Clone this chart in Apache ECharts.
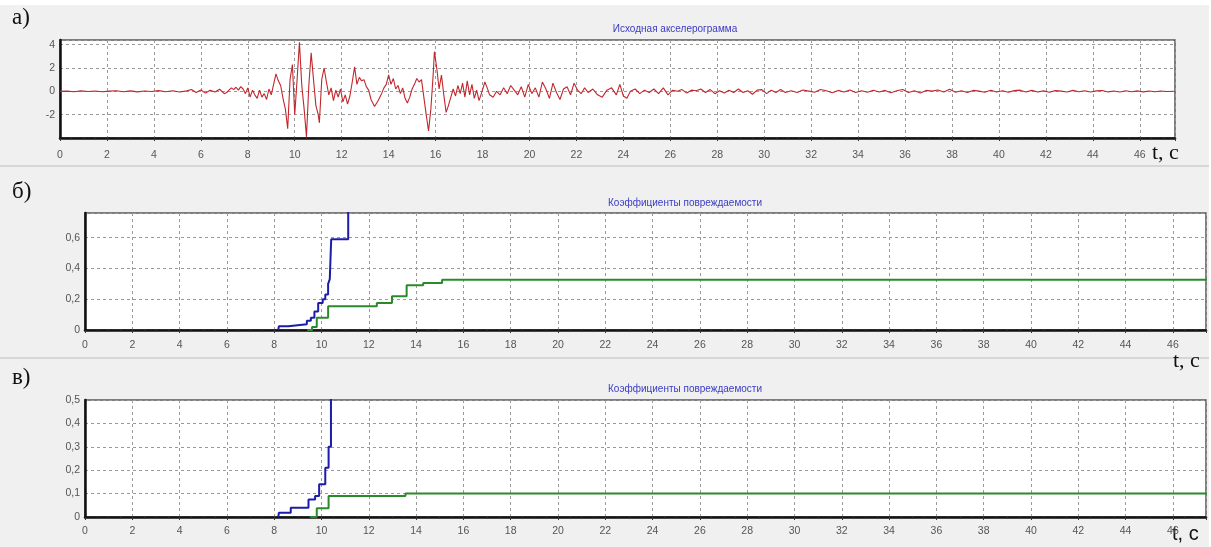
<!DOCTYPE html>
<html><head><meta charset="utf-8">
<script src="https://cdn.jsdelivr.net/npm/echarts@6/dist/echarts.min.js"></script>
<style>html,body{margin:0;padding:0;background:#fff}#c{width:1211px;height:547px}</style>
</head><body><div id="c"></div>
<script>
// --- Data ---
const titles = ['Исходная акселерограмма', 'Коэффициенты повреждаемости', 'Коэффициенты повреждаемости'];
const panelLabels = ['а)', 'б)', 'в)'];
const axisName = 't, c';
const xTicks = [0,2,4,6,8,10,12,14,16,18,20,22,24,26,28,30,32,34,36,38,40,42,44,46];
const yTicksA = [-2,0,2,4];
const yTicksB = [0,0.2,0.4,0.6];
const yTicksC = [0,0.1,0.2,0.3,0.4,0.5];

// accelerogram [t, a]
const accel = [
[0,0],[0.3,0.02],[0.6,-0.03],[0.9,0.04],[1.2,-0.02],[1.5,0.03],[1.8,-0.04],[2.1,0.02],[2.4,0.05],[2.7,-0.03],
[3.0,0.04],[3.3,-0.05],[3.6,0.03],[3.9,-0.02],[4.2,0.06],[4.5,-0.04],[4.8,0.05],[5.1,-0.06],[5.4,0.04],
[5.6,0.15],[5.8,-0.1],[6.0,0.12],[6.2,-0.15],[6.4,0.1],[6.6,-0.05],[6.8,0.18],[7.0,-0.2],
[7.1,-0.1],[7.2,0.1],[7.3,0.3],[7.4,0.15],[7.5,0.35],[7.6,0.1],[7.7,0.4],[7.8,0.2],[7.9,-0.2],[8.0,0.3],
[8.1,-0.5],[8.2,0.1],[8.3,-0.3],[8.4,-0.6],[8.5,0.1],[8.6,-0.5],[8.7,-0.2],[8.8,-0.7],[8.9,0.2],[9.0,-0.3],
[9.1,0.6],[9.2,1.5],[9.3,0.9],[9.4,0.5],[9.5,-0.6],[9.6,-1.5],[9.7,-3.2],[9.8,1.0],[9.9,2.3],[10.0,-2.0],
[10.1,1.0],[10.2,4.2],[10.3,0.5],[10.4,-1.5],[10.5,-3.9],[10.6,0.5],[10.7,3.3],[10.8,1.0],[10.9,-1.2],[11.0,-2.0],
[11.05,-2.7],[11.15,1.0],[11.25,2.0],[11.35,0.8],[11.45,-0.3],[11.55,0.3],[11.65,-0.8],[11.75,0.1],[11.85,-0.5],[11.95,0.2],
[12.05,-0.9],[12.15,-0.3],[12.25,-1.1],[12.35,-0.4],[12.45,0.8],[12.55,2.1],[12.65,0.6],[12.75,1.2],[12.85,0.9],[12.95,1.0],
[13.05,0.4],[13.15,0.1],[13.25,-0.7],[13.4,-1.3],[13.55,-0.8],[13.7,-0.2],[13.8,0.3],[13.9,0.6],[14.0,1.4],[14.1,0.6],
[14.2,1.1],[14.3,0.2],[14.4,0.5],[14.5,-0.2],[14.6,0.3],[14.7,-0.6],[14.8,-1.0],[14.9,-0.5],[15.0,0.2],[15.1,0.6],
[15.2,1.1],[15.3,0.8],[15.4,1.0],[15.5,-0.5],[15.6,-2.0],[15.7,-3.4],[15.8,-1.5],[15.9,1.5],[15.95,3.4],[16.05,2.0],
[16.15,0.2],[16.25,1.4],[16.35,-0.3],[16.45,-1.8],[16.55,-1.2],[16.65,-0.5],[16.75,0.2],[16.85,-0.4],[16.95,0.5],[17.05,-0.2],
[17.15,0.7],[17.25,-0.5],[17.35,0.9],[17.45,-0.3],[17.55,0.6],[17.65,-0.6],[17.75,0.1],[17.85,-0.8],[17.95,-0.2],[18.1,0.8],
[18.2,0.3],[18.3,-0.3],[18.45,-0.5],[18.6,0.0],[18.75,-0.3],[18.9,0.3],[19.05,-0.2],[19.2,0.5],[19.35,0.1],[19.5,-0.3],
[19.65,0.4],[19.8,-0.5],[19.95,0.6],[20.1,-0.2],[20.25,0.3],[20.4,-0.5],[20.55,0.8],[20.7,0.2],[20.85,-0.6],[21.0,0.7],
[21.15,-0.1],[21.3,-0.7],[21.45,0.2],[21.6,0.4],[21.75,-0.3],[21.9,0.7],[22.05,0.1],[22.2,-0.2],[22.35,0.3],[22.5,-0.1],
[22.7,0.2],[22.9,-0.3],[23.1,-0.5],[23.3,0.1],[23.5,0.3],[23.7,-0.3],[23.85,0.6],[24.0,-0.4],[24.15,-0.6],[24.3,0.0],
[24.5,0.2],[24.7,-0.2],[24.9,0.1],[25.1,-0.1],[25.3,0.2],[25.5,-0.2],[25.7,0.3],[25.9,-0.3],[26.1,0.1],[26.3,0.0],
[26.5,0.15],[26.7,-0.15],[26.9,0.1],[27.1,0.05],[27.3,0.2],[27.5,-0.1],[27.7,0.15],[27.9,-0.2],[28.1,0.05],[28.3,-0.15],
[28.5,0.1],[28.7,-0.1],[28.9,0.2],[29.1,-0.1],[29.3,0.05],[29.5,-0.25],[29.7,0.1],[29.9,0.15],[30.1,-0.2],[30.3,0.1],
[30.5,-0.1],[30.7,0.15],[30.9,-0.1],[31.15,0.05],[31.4,-0.1],[31.65,0.12],[31.9,0.02],[32.15,-0.08],[32.4,0.15],[32.65,0.05],
[32.9,-0.12],[33.15,0.08],[33.4,-0.05],[33.65,0.12],[33.9,-0.1],[34.15,0.05],[34.4,-0.08],[34.65,0.1],[34.9,-0.05],[35.15,0.08],
[35.4,-0.12],[35.65,0.05],[35.9,0.15],[36.15,-0.1],[36.4,0.05],[36.65,-0.15],[36.9,0.08],[37.15,0.02],[37.4,0.12],[37.65,-0.05],
[37.9,0.18],[38.15,-0.08],[38.4,0.05],[38.65,-0.1],[38.9,0.08],[39.15,0.02],[39.4,-0.08],[39.65,0.1],[39.9,-0.05],[40.15,0.05],
[40.4,-0.08],[40.65,0.06],[40.9,0.1],[41.15,-0.05],[41.4,0.08],[41.65,-0.06],[41.9,0.04],[42.15,-0.08],[42.4,0.06],[42.65,0.02],
[42.9,-0.06],[43.15,0.08],[43.4,-0.04],[43.65,0.05],[43.9,-0.06],[44.15,0.04],[44.4,0.07],[44.65,-0.05],[44.9,0.03],[45.15,-0.06],
[45.4,0.05],[45.65,-0.03],[45.9,0.04],[46.15,-0.05],[46.4,0.03],[46.65,-0.04],[46.9,0.03],[47.15,-0.02],[47.5,0.01]
];

// damage coefficients, panel б (step changes [t, value])
const blueB = [[8.17,0],[8.2,0.025],[8.6,0.037],[9.38,0.06],[9.55,0.08],[9.7,0.12],[9.86,0.175],[10.05,0.2],[10.16,0.23],[10.28,0.3],[10.35,0.33],[10.41,0.59],[11.13,1.0]];
const greenB = [[9.4,0],[9.6,0.02],[9.8,0.08],[10.28,0.155],[12.34,0.175],[12.98,0.22],[13.6,0.29],[14.3,0.305],[15.1,0.326],[47.5,0.326]];
// panel в
const blueC = [[8.17,0],[8.2,0.018],[8.7,0.04],[9.45,0.075],[9.73,0.09],[9.9,0.14],[10.16,0.21],[10.3,0.3],[10.4,1.0]];
const greenC = [[9.52,0],[9.8,0.037],[10.3,0.09],[13.55,0.1],[47.5,0.1]];

// --- Chart ---
const chart = echarts.init(document.getElementById('c'), null, {renderer:'canvas'});
const fmtComma = v => String(Math.round(v*10)/10).replace('.', ',');
function onTicks(ticks, fmt) {
  return v => ticks.some(t => Math.abs(t - v) < 1e-6) ? fmt(v) : '';
}
const grids = [
  {left:60, top:40, width:1115, height:98},
  {left:85, top:213, width:1121, height:117},
  {left:85, top:400, width:1121, height:117}
];
const gridStyle = {show:true, backgroundColor:'#ffffff', borderColor:'#555', borderWidth:1.5};
const labelStyle = {color:'#555', fontSize:10.5, fontFamily:'Liberation Sans, Arial, sans-serif'};
const splitDashed = {show:true, lineStyle:{color:'#9a9a9a', type:[3,3], width:1}};

function xAxis(i, margin, max) {
  return {
    type:'value', gridIndex:i, min:0, max:max, interval:2,
    axisLine:{show:true, onZero:false, lineStyle:{color:'#111', width:2.5}},
    axisTick:{show:true, length:3, inside:false, lineStyle:{color:'#333'}},
    minorTick:{show:true, splitNumber:4, length:2, lineStyle:{color:'#333'}},
    splitLine:splitDashed,
    axisLabel:Object.assign({margin:margin, showMaxLabel:false, formatter:onTicks(xTicks, v=>String(Math.round(v)))}, labelStyle)
  };
}
function yAxis(i, min, max, interval, ticks, fmt) {
  return {
    type:'value', gridIndex:i, min:min, max:max, interval:interval,
    axisLine:{show:true, onZero:false, lineStyle:{color:'#111', width:2.5}},
    axisTick:{show:false},
    splitLine:splitDashed,
    axisLabel:Object.assign({margin:5, formatter:onTicks(ticks, fmt)}, labelStyle)
  };
}

const titleStyle = {color:'#3b3bc4', fontSize:10, fontWeight:'normal', fontFamily:'Liberation Sans, Arial, sans-serif'};
const serif = 'Liberation Serif, Times New Roman, serif';

const option = {
  backgroundColor:'#f0f0f0',
  animation:false,
  title:[
    {text:titles[0], left:670, top:19, textAlign:'center', textStyle:titleStyle},
    {text:titles[1], left:680, top:193, textAlign:'center', textStyle:titleStyle},
    {text:titles[2], left:680, top:379, textAlign:'center', textStyle:titleStyle}
  ],
  graphic:[
    {type:'rect', shape:{x:0, y:0, width:1211, height:5}, style:{fill:'#ffffff'}, silent:true, z:-10},
    {type:'rect', shape:{x:1209, y:0, width:2, height:547}, style:{fill:'#ffffff'}, silent:true, z:-10},
    {type:'rect', shape:{x:0, y:165, width:1209, height:2}, style:{fill:'#d6d6d6'}, silent:true, z:-10},
    {type:'rect', shape:{x:0, y:357, width:1209, height:2}, style:{fill:'#d6d6d6'}, silent:true, z:-10},
    {type:'text', left:12, top:6, style:{text:panelLabels[0], font:'23px ' + serif, fill:'#111'}},
    {type:'text', left:12, top:180, style:{text:panelLabels[1], font:'23px ' + serif, fill:'#111'}},
    {type:'text', left:12, top:366, style:{text:panelLabels[2], font:'23px ' + serif, fill:'#111'}},
    {type:'text', left:1152, top:142, style:{text:axisName, font:'22px ' + serif, fill:'#111'}},
    {type:'text', left:1173, top:350, style:{text:axisName, font:'22px ' + serif, fill:'#111'}},
    {type:'text', left:1172, top:524, style:{text:axisName, font:'20px Liberation Sans, Arial, sans-serif', fill:'#111'}}
  ],
  grid: grids.map(g => Object.assign({}, g, gridStyle)),
  xAxis:[xAxis(0, 12, 47.5), xAxis(1, 10, 47.4), xAxis(2, 9, 47.4)],
  yAxis:[
    yAxis(0, -4, 4.4, 2, yTicksA, v=>String(Math.round(v))),
    yAxis(1, 0, 0.76, 0.2, yTicksB, fmtComma),
    yAxis(2, 0, 0.5, 0.1, yTicksC, fmtComma)
  ],
  series:[
    {type:'line', xAxisIndex:0, yAxisIndex:0, data:accel, showSymbol:false, lineStyle:{color:'#c0272d', width:1.1}, clip:true},
    {type:'line', xAxisIndex:1, yAxisIndex:1, data:greenB, step:'end', showSymbol:false, lineStyle:{color:'#2a8a2a', width:2}, clip:true},
    {type:'line', xAxisIndex:1, yAxisIndex:1, data:blueB, step:'end', showSymbol:false, lineStyle:{color:'#1c1ca8', width:2}, clip:true},
    {type:'line', xAxisIndex:2, yAxisIndex:2, data:greenC, step:'end', showSymbol:false, lineStyle:{color:'#2a8a2a', width:2}, clip:true},
    {type:'line', xAxisIndex:2, yAxisIndex:2, data:blueC, step:'end', showSymbol:false, lineStyle:{color:'#1c1ca8', width:2}, clip:true}
  ]
};
chart.setOption(option);
</script></body></html>
